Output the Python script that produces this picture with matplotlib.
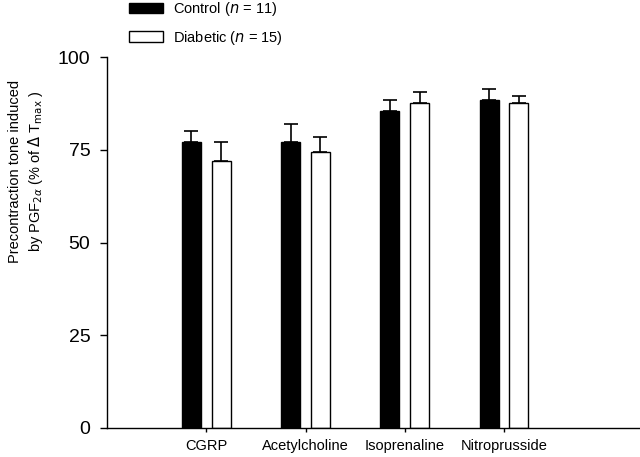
import matplotlib
matplotlib.use("Agg")
import matplotlib.pyplot as plt
from matplotlib.patches import Patch
import numpy as np

plt.rcParams['font.family'] = ['Liberation Sans', 'DejaVu Sans']

# values
categories = ['CGRP', 'Acetylcholine', 'Isoprenaline', 'Nitroprusside']
control = [77, 77, 85.5, 88.5]
control_err = [3, 5, 3, 3]
diabetic = [72, 74.5, 87.5, 87.5]
diabetic_err = [5, 4, 3, 2]
legend_labels = ['Control ($n$ = 11)', 'Diabetic ($n$ = 15)']

fig = plt.figure(figsize=(6.4, 4.57), dpi=100)
ax = fig.add_axes([107 / 640, 1 - 428 / 457, 1 - 107 / 640, (428 - 57) / 457])

x = np.arange(1, len(categories) + 1)
w = 0.19
off = 0.15
ekw = dict(elinewidth=1.2, capthick=1.2, ecolor='black')
ax.bar(x - off, control, w, color='black', edgecolor='black',
       yerr=[np.zeros(len(x)), control_err], capsize=5, error_kw=ekw)
ax.bar(x + off, diabetic, w, color='white', edgecolor='black', linewidth=1,
       yerr=[np.zeros(len(x)), diabetic_err], capsize=5, error_kw=ekw)

ax.set_xlim(0, 5.37)
ax.set_ylim(0, 100)
ax.set_yticks([0, 25, 50, 75, 100])
ax.set_xticks(x)
ax.set_xticklabels(categories, fontsize=10.5)
ax.tick_params(axis='y', labelsize=14, direction='out', length=5, width=1, pad=7)
ax.tick_params(axis='x', direction='out', length=3, width=1, pad=5)
for s in ['top', 'right']:
    ax.spines[s].set_visible(False)
ax.spines['left'].set_linewidth(1)
ax.spines['bottom'].set_linewidth(1)

fig.text(15 / 640, 1 - 171 / 457, 'Precontraction tone induced',
         rotation=90, ha='center', va='center', fontsize=10.5)
fig.text(36 / 640, 1 - 171 / 457, r'by PGF$_{2\alpha}$ (% of $\Delta$ T$_{\rm max}$ )',
         rotation=90, ha='center', va='center', fontsize=10.5)

handles = [Patch(facecolor='black', edgecolor='black'),
           Patch(facecolor='white', edgecolor='black')]
fig.legend(handles, legend_labels, loc='upper left',
           bbox_to_anchor=(129 / 640, 0.999), frameon=False, fontsize=10.5,
           borderpad=0, borderaxespad=0,
           handlelength=2.33, handleheight=0.7, labelspacing=0.7, handletextpad=0.66)

fig.savefig('out.png', dpi=100)
